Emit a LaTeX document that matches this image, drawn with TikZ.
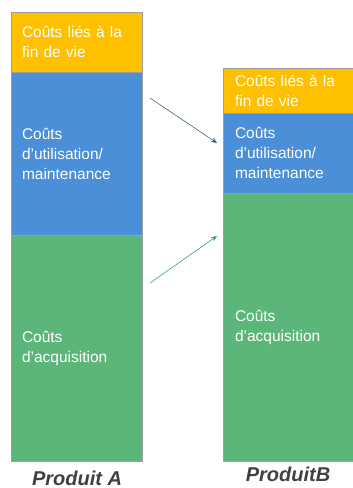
\documentclass[tikz,border=0pt]{standalone}
\usepackage{fontspec}
\setmainfont{Liberation Sans}
\usetikzlibrary{positioning}
\usetikzlibrary{arrows.meta}
\definecolor{finC}{HTML}{FFC000}
\definecolor{utilC}{HTML}{4A8FD7}
\definecolor{acqC}{HTML}{5CB67A}
\definecolor{arrowA}{HTML}{3F6680}
\definecolor{arrowB}{HTML}{3A9C86}
\tikzset{
    seg/.style = {rectangle, draw=gray!75, thin, outer sep=0pt, inner xsep=11pt, inner ysep=0pt,
                  text width=109pt, align=left, text=white, font=\fontsize{15.5}{20}\selectfont},
    prodlabel/.style = {font=\fontsize{20}{22}\selectfont\bfseries\itshape, text=black!75},
    costarrow/.style = {-{Stealth[length=6pt,width=5pt]}, semithick},
}
\begin{document}
\begin{tikzpicture}[x=1pt, y=-1pt]
  \useasboundingbox (0,0) rectangle (353,488);
  % Produit A
  \node[seg, fill=finC, minimum height=60pt, anchor=north west] (finA) at (11,12)
    {\makebox[109pt][s]{Coûts liés à la}\\fin de vie};
  \node[seg, fill=utilC, minimum height=163pt, below=0pt of finA] (utilA)
    {Coûts\\d’utilisation/\\maintenance};
  \node[seg, fill=acqC, minimum height=226pt, below=0pt of utilA] (acqA)
    {Coûts\\d’acquisition};
  % Produit B
  \node[seg, fill=finC, minimum height=45pt, anchor=north west, inner xsep=12pt] (finB) at (223,68)
    {\makebox[109pt][s]{Coûts liés à la}\\fin de vie};
  \node[seg, fill=utilC, minimum height=80pt, below=0pt of finB, inner xsep=12pt] (utilB)
    {Coûts\\d’utilisation/\\maintenance};
  \node[seg, fill=acqC, minimum height=268pt, below=0pt of utilB, inner xsep=12pt] (acqB)
    {Coûts\\d’acquisition};
  % labels
  \node[prodlabel] (labA) at (77,478) {Produit A};
  \node[prodlabel] (labB) at (288,474) {ProduitB};
  % arrows
  \coordinate (utilFrom) at (150,98);
  \coordinate (utilTo) at (217,143);
  \coordinate (acqFrom) at (150,283);
  \coordinate (acqTo) at (217,236);
  \draw[costarrow, arrowA] (utilFrom) -- (utilTo);
  \draw[costarrow, arrowB] (acqFrom) -- (acqTo);
\end{tikzpicture}
\end{document}
